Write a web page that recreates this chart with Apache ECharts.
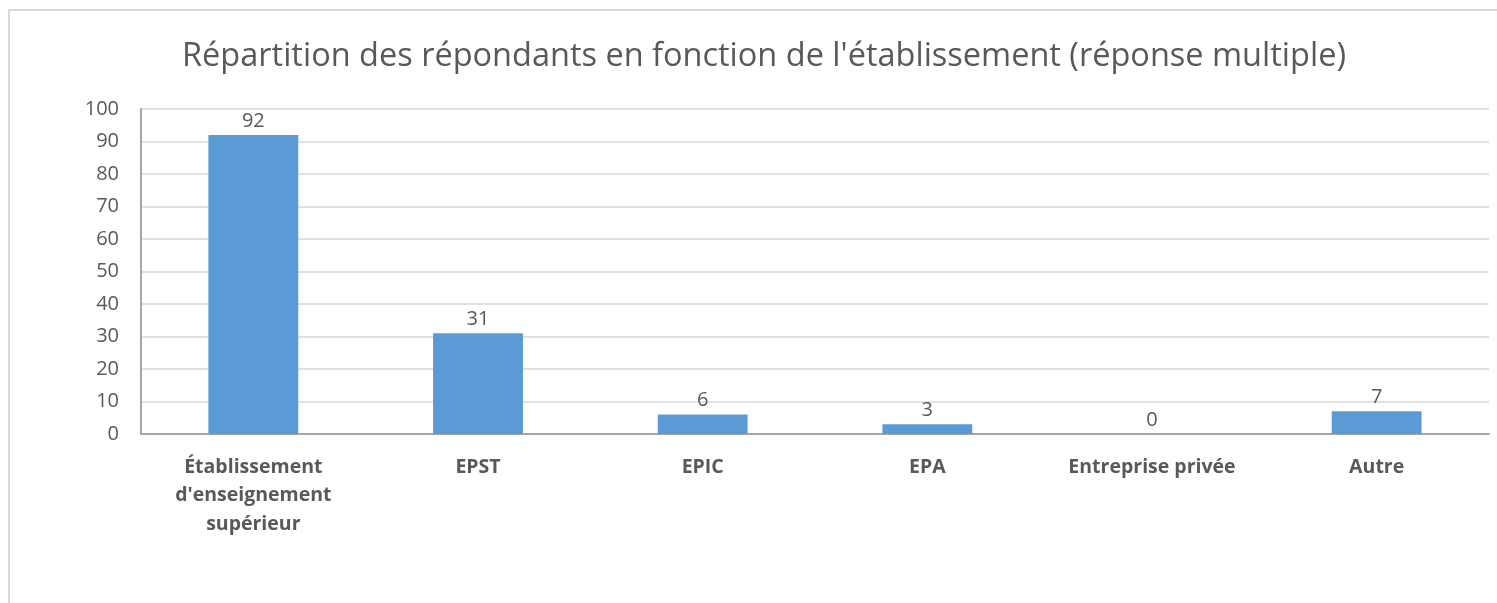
<!DOCTYPE html>
<html>
<head>
<meta charset="utf-8">
<script src="https://cdn.jsdelivr.net/npm/echarts@6/dist/echarts.min.js"></script>
<style>
  html, body { margin: 0; padding: 0; background: #fff; }
  #chart { width: 1497px; height: 603px; }
</style>
</head>
<body>
<div id="chart"></div>
<script>
const titleText = "Répartition des répondants en fonction de l'établissement (réponse multiple)"
const categories = [
  "Établissement\nd'enseignement\nsupérieur",
  'EPST',
  'EPIC',
  'EPA',
  'Entreprise privée',
  'Autre'
]
const values = [92, 31, 6, 3, 0, 7]

const chart = echarts.init(document.getElementById('chart'))
const font = "'Open Sans', 'Noto Sans', sans-serif"

chart.setOption({
  animation: false,
  textStyle: { fontFamily: font },
  graphic: [
    {
      type: 'rect',
      shape: { x: 9, y: 10, width: 1700, height: 800 },
      style: { fill: 'none', stroke: '#d9d9d9', lineWidth: 2 },
      silent: true
    }
  ],
  title: {
    text: titleText,
    left: 759,
    textAlign: 'center',
    top: 35,
    textStyle: { fontFamily: font, fontSize: 32.5, fontWeight: 'normal', color: '#595959' }
  },
  grid: { left: 141, right: 8, top: 109, bottom: 169 },
  xAxis: {
    type: 'category',
    data: categories,
    axisLine: { lineStyle: { color: '#a6a6a6', width: 2 } },
    axisTick: { show: false },
    axisLabel: {
      interval: 0,
      margin: 19,
      color: '#595959',
      fontFamily: font,
      fontSize: 19.5,
      fontWeight: 'bold',
      lineHeight: 28.5
    }
  },
  yAxis: {
    type: 'value',
    min: 0,
    max: 100,
    interval: 10,
    axisLine: { show: true, lineStyle: { color: '#a6a6a6', width: 2 } },
    axisTick: { show: false },
    axisLabel: { margin: 22, color: '#595959', fontFamily: font, fontSize: 20 },
    splitLine: { lineStyle: { color: '#d9d9d9', width: 1.5 } }
  },
  series: [
    {
      type: 'bar',
      data: values,
      barWidth: '40%',
      itemStyle: { color: '#5b9bd5' },
      label: {
        show: true,
        position: 'top',
        distance: 4,
        color: '#595959',
        fontFamily: font,
        fontSize: 20
      }
    }
  ]
})
</script>
</body>
</html>
